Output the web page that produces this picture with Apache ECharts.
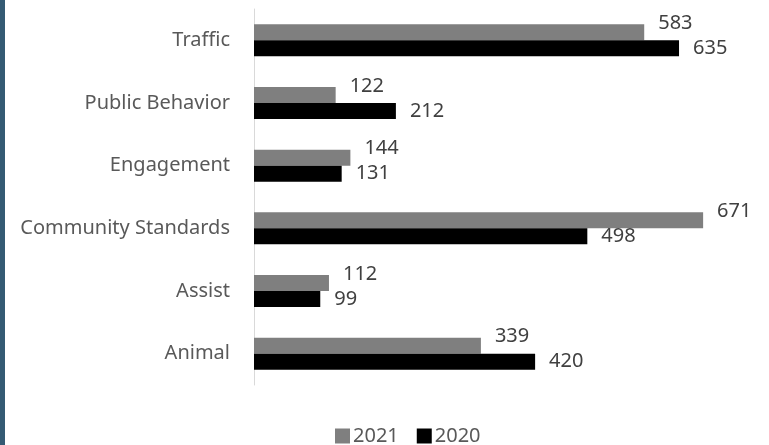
<!DOCTYPE html>
<html>
<head>
<meta charset="utf-8">
<script src="https://cdn.jsdelivr.net/npm/echarts@6/dist/echarts.min.js"></script>
<style>html,body{margin:0;padding:0;background:#fff}#c{width:769px;height:445px}</style>
</head>
<body>
<div id="c"></div>
<script>
var categories = ['Traffic', 'Public Behavior', 'Engagement', 'Community Standards', 'Assist', 'Animal'];
var values2021 = [583, 122, 144, 671, 112, 339];
var values2020 = [635, 212, 131, 498, 99, 420];
var seriesNames = ['2021', '2020'];

var chart = echarts.init(document.getElementById('c'), null, {renderer: 'canvas'});
var font = '"Noto Sans", sans-serif';
chart.setOption({
  backgroundColor: '#ffffff',
  animation: false,
  graphic: [{type: 'rect', left: 0, top: 0, shape: {width: 5, height: 445}, style: {fill: '#345a73'}, z: 10}],
  grid: {left: 254, top: 9, width: 502, height: 376, containLabel: false},
  xAxis: {type: 'value', min: 0, max: 750, show: false, splitLine: {show: false}},
  yAxis: {
    type: 'category', data: categories, inverse: true,
    axisLine: {show: true, lineStyle: {color: '#d9d9d9', width: 1}},
    axisTick: {show: false},
    axisLabel: {color: '#595959', fontSize: 20, fontFamily: font, margin: 24}
  },
  legend: {
    left: 335, top: 426, padding: 0, itemWidth: 15, itemHeight: 15, itemGap: 18,
    icon: 'rect',
    textStyle: {color: '#595959', fontSize: 20, fontFamily: font, padding: [0, 0, 0, -2]},
    data: seriesNames
  },
  series: [
    {name: seriesNames[0], type: 'bar', data: values2021, barWidth: 16, barGap: '0%',
     itemStyle: {color: '#7f7f7f'},
     label: {show: true, position: 'right', distance: 14, offset: [0, -9], color: '#404040', fontSize: 20, fontFamily: font}},
    {name: seriesNames[1], type: 'bar', data: values2020, barWidth: 16, barGap: '0%',
     itemStyle: {color: '#000000'},
     label: {show: true, position: 'right', distance: 14, offset: [0, 0], color: '#404040', fontSize: 20, fontFamily: font}}
  ]
});
</script>
</body>
</html>
